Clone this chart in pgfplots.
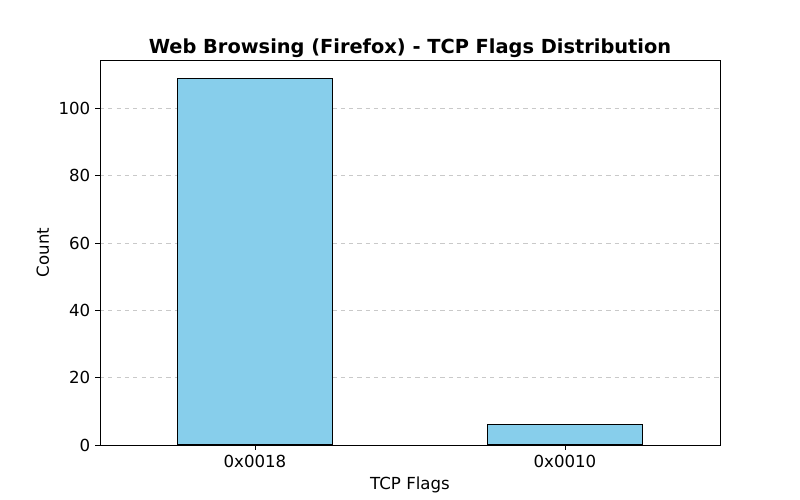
\documentclass[border=0pt]{standalone}
\usepackage{pgfplots}
\pgfplotsset{compat=1.18}
\usepackage{fontspec}
\setmainfont{DejaVu Sans}
\definecolor{skyblue}{HTML}{87CEEB}
\begin{document}
\begin{tikzpicture}
\useasboundingbox (-1in,-0.55in) rectangle (7in,4.45in);
\begin{axis}[
  at={(0,0)}, anchor=south west,
  scale only axis,
  width=6.2in, height=3.85in,
  xmin=-0.5, xmax=1.5,
  ymin=0, ymax=114.45,
  xtick={0,1},
  xticklabels={0x0018,0x0010},
  ytick={0,20,40,60,80,100},
  tick align=outside,
  xtick pos=bottom, ytick pos=left,
  major tick length=3.5pt,
  tick style={black, line width=0.6pt},
  axis line style={line width=0.6pt},
  ymajorgrids,
  grid style={dashed, gray!60, line width=0.6pt, opacity=0.7},
  tick label style={font=\fontsize{12}{14}\selectfont},
  /pgf/number format/assume math mode=true,
  xlabel={TCP Flags},
  ylabel={Count},
  label style={font=\fontsize{12}{14}\selectfont},
  title={\textbf{Web Browsing (Firefox) - TCP Flags Distribution}},
  title style={font=\fontsize{14}{17}\selectfont, yshift=-7.5pt},
  ybar, bar width=1.55in,
]
\addplot[fill=skyblue, draw=black, line width=0.8pt] coordinates {(0,109) (1,6)};
\end{axis}
\end{tikzpicture}
\end{document}
